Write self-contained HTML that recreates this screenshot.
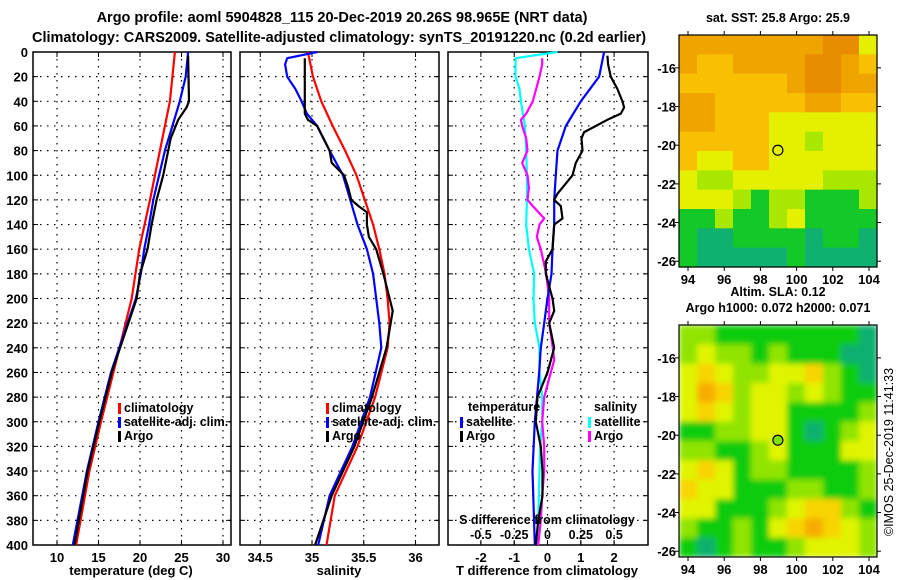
<!DOCTYPE html>
<html><head><meta charset="utf-8"><style>
body{margin:0;background:#fff;}
svg{display:block;font-family:"Liberation Sans",Arial,sans-serif;font-weight:bold;}
</style></head><body>
<svg id="c" width="900" height="580" viewBox="0 0 900 580">
<defs>
<filter id="blur" x="-5%" y="-5%" width="110%" height="110%"><feGaussianBlur stdDeviation="3" edgeMode="duplicate"/></filter>
<clipPath id="slaClip"><rect x="679" y="325" width="198" height="232"/></clipPath>
</defs>
</svg>
<script>
// ---------- data ----------
const depthTicks=[0,20,40,60,80,100,120,140,160,180,200,220,240,260,280,300,320,340,360,380,400];
const tempTicks=[10,15,20,25,30];
const salTicks=[34.5,35,35.5,36];
const dTTicks=[-2,-1,0,1,2];
const dSTicks=[-0.5,-0.25,0,0.25,0.5];
const dSTickLabels=["-0.5","-0.25","0","0.25","0.5"];
// temperature profiles [depth, value]
const tClimD=[0,40,80,120,160,200,260,300,340,400];
const tClimV=[24.2,23.6,22.4,21.2,19.9,19.0,16.8,15.3,13.9,12.3];
const tSatD=[0,20,40,60,80,100,120,140,160,180,200,260,300,340,400];
const tSatV=[25.8,25.5,24.8,23.9,23.0,22.3,21.6,21.1,20.5,20.1,19.5,16.5,15.0,13.6,11.9];
const tArgoD=[3,40,45,55,60,70,80,100,120,140,160,180,200,260,300,340,400];
const tArgoV=[25.8,25.9,25.6,24.6,24.3,23.7,23.4,22.8,22.0,21.4,20.9,20.0,19.6,16.6,15.1,13.7,12.1];
// salinity profiles
const sClimD=[0,20,40,60,80,100,120,140,160,180,200,220,240,280,320,360,400];
const sClimV=[34.96,35.01,35.09,35.20,35.32,35.43,35.51,35.59,35.65,35.70,35.73,35.75,35.73,35.61,35.44,35.22,35.14];
const sSatD=[0,5,10,20,30,40,50,60,80,100,120,140,160,180,200,220,240,280,320,360,400];
const sSatV=[35.05,34.76,34.74,34.76,34.84,34.90,34.95,35.05,35.17,35.30,35.37,35.44,35.53,35.59,35.62,35.65,35.67,35.56,35.39,35.17,35.06];
const sArgoD=[5,50,55,60,80,90,95,100,110,120,125,130,140,150,160,180,200,210,220,240,280,320,360,400];
const sArgoV=[34.93,34.93,34.96,35.05,35.17,35.19,35.25,35.31,35.35,35.38,35.45,35.53,35.53,35.55,35.62,35.69,35.75,35.78,35.76,35.72,35.58,35.41,35.19,35.03];
// differences
const dTSatD=[0,20,40,60,80,100,120,140,160,180,200,220,240,260,300,340,400];
const dTSatV=[1.7,1.55,1.0,0.55,0.3,0.25,0.2,0.2,0.15,0.12,0.0,-0.1,-0.2,-0.25,-0.38,-0.45,-0.38];
const dTArgoD=[3,10,20,30,40,45,50,55,60,65,70,80,90,100,105,115,120,125,135,140,160,170,180,200,210,220,240,255,260,280,300,320,340,360,380,400];
const dTArgoV=[1.8,1.82,1.9,2.1,2.25,2.3,2.2,1.8,1.45,1.1,1.02,1.05,0.85,0.75,0.6,0.3,0.2,0.4,0.45,0.2,0.15,-0.05,-0.05,0.15,0.2,0.05,0.2,0.05,0,-0.3,-0.35,-0.2,-0.15,-0.15,-0.28,-0.35];
const dSSatD=[0,5,10,20,30,40,60,80,100,120,140,160,180,200,220,240,260,280,300,320,340,400];
const dSSatV=[0.075,-0.24,-0.24,-0.24,-0.21,-0.2,-0.17,-0.16,-0.155,-0.155,-0.16,-0.14,-0.1,-0.105,-0.095,-0.06,-0.06,-0.04,-0.04,-0.055,-0.06,-0.075];
const dSArgoD=[5,10,20,40,50,55,60,70,80,90,100,110,120,125,135,140,150,160,180,200,220,240,250,260,270,280,300,320,340,360,380,400];
const dSArgoV=[-0.04,-0.04,-0.06,-0.11,-0.16,-0.2,-0.19,-0.16,-0.15,-0.19,-0.15,-0.14,-0.15,-0.11,-0.025,-0.06,-0.08,-0.05,-0.01,0.0125,0.0125,0.04,0.05,0.025,0.0,-0.025,-0.04,-0.025,-0.025,-0.04,-0.05,-0.07];
// maps: rows lat -15..-26, cols lon 94..104
const sstGrid=[
[5,5,5,5,5,5,5,5,6,6,3],[5,4,4,5,5,5,5,6,6,5,4],[4,4,4,4,4,4,5,6,6,5,5],[5,5,4,4,4,4,4,5,5,4,4],
[5,5,4,4,4,3,3,3,3,3,3],[4,4,4,4,4,3,3,2,3,3,3],[4,3,3,4,4,3,3,3,3,3,3],[3,2,2,3,3,3,3,3,2,2,2],
[3,3,3,2,1,2,2,1,1,1,2],[1,1,2,1,1,2,3,1,1,1,1],[1,0,0,1,1,1,1,0,1,1,0],[1,0,0,0,0,0,1,0,0,0,0]];
const slaGrid=[
[2,2,1,1,1,1,1,1,1,1,0],[2,3,2,2,1,2,1,1,1,0,0],[3,4,3,2,2,3,3,4,2,1,0],[3,5,4,2,3,3,2,3,2,1,1],
[3,4,3,2,3,3,1,1,1,1,2],[1,1,2,2,3,3,1,0,1,2,3],[2,2,1,1,2,3,1,1,1,3,3],[3,4,3,1,2,2,1,1,1,1,2],
[4,3,3,1,1,1,2,2,1,1,2],[3,3,1,1,1,2,3,4,4,2,1],[2,1,1,2,1,3,4,5,4,3,2],[1,0,1,2,1,1,2,3,3,3,2]];
const lonTicks=[94,96,98,100,102,104];
const latTicks=[-16,-18,-20,-22,-24,-26];
const argoLon=98.965, argoLat=-20.26;

// ---------- drawing ----------
const NS="http://www.w3.org/2000/svg";
const svg=document.getElementById('c');
function mk(tag,attrs,parent){const e=document.createElementNS(NS,tag);for(const k in attrs)e.setAttribute(k,attrs[k]);(parent||svg).appendChild(e);return e;}
function txt(s,x,y,anchor,size,parent){const t=mk('text',{x:x,y:y,'text-anchor':anchor||'middle','font-size':size||13},parent);t.textContent=s;return t;}
const Y0=52,Y1=545;
const yD=d=>Y0+d*(Y1-Y0)/400;
const xT=v=>57+(v-10)*8.3;
const xS=v=>312+(v-35)*103.5;
const xDT=v=>547.5+v*33.3;
const xDS=v=>547.5+v*133.2;

function panel(name,x0,x1,xticks,xfn,labels,yLabels){
  const g=mk('g',{});
  
  
  depthTicks.forEach(d=>{
    if(d>0&&d<400){const l=mk('line',{x1:x0,x2:x1,y1:yD(d),y2:yD(d),stroke:'#000','stroke-width':1.2,'stroke-dasharray':'1.5,5.5'},g);
      }
    mk('line',{x1:x0,x2:x0+5,y1:yD(d),y2:yD(d),stroke:'#000'},g);
    mk('line',{x1:x1-5,x2:x1,y1:yD(d),y2:yD(d),stroke:'#000'},g);
    if(yLabels){const t=txt(String(d),28,yD(d)+5,'end',13,g);}
  });
  xticks.forEach((v,i)=>{
    const x=xfn(v);
    const l=mk('line',{x1:x,x2:x,y1:Y0,y2:Y1,stroke:'#000','stroke-width':1.2,'stroke-dasharray':'1.5,5.5'},g);
    
    mk('line',{x1:x,x2:x,y1:Y1-5,y2:Y1,stroke:'#000'},g);
    mk('line',{x1:x,x2:x,y1:Y0,y2:Y0+5,stroke:'#000'},g);
    const t=txt(labels[i],x,Y1+17,'middle',13,g);
    
  });
  mk('rect',{x:x0,y:Y0,width:x1-x0,height:Y1-Y0,fill:'none',stroke:'#000','stroke-width':1.5},g);
  return g;
}
function line(g,D,V,xfn,color,name,w){
  const pts=D.map((d,i)=>xfn(V[i]).toFixed(1)+','+yD(d).toFixed(1)).join(' ');
  const p=mk('polyline',{points:pts,fill:'none',stroke:color,'stroke-width':w||2.2,'stroke-linejoin':'round'},g);
  
}
// titles
let t=txt('Argo profile: aoml 5904828_115 20-Dec-2019 20.26S 98.965E (NRT data)',342,22,'middle',14.5);

t=txt('Climatology: CARS2009. Satellite-adjusted climatology: synTS_20191220.nc (0.2d earlier)',339,42,'middle',14.5);


// panel 1
const p1=panel('temperature-panel',33,231,tempTicks,xT,tempTicks.map(String),true);
line(p1,tClimD,tClimV,xT,'#f00','temp-climatology-line');
line(p1,tSatD,tSatV,xT,'#00f','temp-satellite-line');
line(p1,tArgoD,tArgoV,xT,'#000','temp-argo-line');
t=txt('temperature (deg C)',131,575,'middle',13);
function legend(g,x,y,items){
  items.forEach((it,i)=>{
    const yy=y+i*14;
    const r=mk('rect',{x:x,y:yy-9,width:3,height:11,fill:it[1]},g);
    
    const tt=txt(it[0],x+6,yy,'start',12.5,g);
    
  });
}
legend(p1,118,412,[['climatology','#f00'],['satellite-adj. clim.','#00f'],['Argo','#000']]);
// panel 2
const p2=panel('salinity-panel',240,439,salTicks,xS,['34.5','35','35.5','36'],false);
line(p2,sClimD,sClimV,xS,'#f00','sal-climatology-line');
line(p2,sSatD,sSatV,xS,'#00f','sal-satellite-line');
line(p2,sArgoD,sArgoV,xS,'#000','sal-argo-line');
t=txt('salinity',339,575,'middle',13);
legend(p2,326,412,[['climatology','#f00'],['satellite-adj. clim.','#00f'],['Argo','#000']]);
// panel 3
const p3=panel('difference-panel',448,648,dTTicks,xDT,dTTicks.map(String),false);
line(p3,dSSatD,dSSatV,xDS,'#0ff','sal-diff-satellite-line');
line(p3,dSArgoD,dSArgoV,xDS,'#f0f','sal-diff-argo-line');
line(p3,dTSatD,dTSatV,xDT,'#00f','temp-diff-satellite-line');
line(p3,dTArgoD,dTArgoV,xDT,'#000','temp-diff-argo-line');
t=txt('T difference from climatology',547,575,'middle',13);
t=txt('S difference from climatology',547,524,'middle',12.5,p3);
dSTicks.forEach((v,i)=>{const tt=txt(dSTickLabels[i],xDS(v),539,'middle',12.5,p3);
  mk('line',{x1:xDS(v),x2:xDS(v),y1:Y1-4,y2:Y1,stroke:'#000'},p3);});
t=txt('temperature',468,411,'start',12.5,p3);
t=txt('salinity',594,411,'start',12.5,p3);
legend(p3,460,426,[['satellite','#00f'],['Argo','#000']]);
legend(p3,588,426,[['satellite','#0ff'],['Argo','#f0f']]);

// maps
const sstCols=['#10b070','#14c828','#a8e800','#e4f000','#f8c000','#f0a400','#e88c00'];
const slaCols=['#08b070','#10cc10','#90e400','#e0f400','#f8d400','#f8ac00'];
function map(name,top,bot,grid,cols,title1,title2,dotFill,smooth){
  const g=mk('g',{});
  
  const X0=679,X1=877;
  const lonX=lon=>688+(lon-94)*18.1;
  const latY=lat=>top+(lat+14.3)*(-(bot-top)/12);
  const cw=(X1-X0)/grid[0].length, ch=(bot-top)/grid.length;
  const cg=mk('g',smooth?{'clip-path':'url(#slaClip)'}:{},g);
  const cg2=mk('g',smooth?{filter:'url(#blur)'}:{},cg);
  grid.forEach((row,r)=>row.forEach((v,c)=>{
    const cell=mk('rect',{x:X0+c*cw,y:top+r*ch,width:cw+0.6,height:ch+0.6,fill:cols[v]},cg2);
    
  }));
  mk('rect',{x:X0,y:top,width:X1-X0,height:bot-top,fill:'none',stroke:'#000','stroke-width':1.2},g);
  lonTicks.forEach(l=>{const x=lonX(l);mk('line',{x1:x,x2:x,y1:bot,y2:bot+4,stroke:'#000'},g);mk('line',{x1:x,x2:x,y1:top-4,y2:top,stroke:'#000'},g);
    const tt=txt(String(l),x,bot+17,'middle',13,g);});
  latTicks.forEach(l=>{const y=latY(l);mk('line',{x1:X0-4,x2:X0,y1:y,y2:y,stroke:'#000'},g);mk('line',{x1:X1,x2:X1+4,y1:y,y2:y,stroke:'#000'},g);
    const tt=txt(String(l),676,y+5,'end',13,g);});
  const cc=mk('circle',{cx:lonX(argoLon),cy:latY(argoLat),r:5,fill:dotFill,stroke:'#000','stroke-width':1.2},g);
  
  let a=txt(title1,778,top-13-(title2?16:0),'middle',12.5,g);
  if(title2){a=txt(title2,778,top-13,'middle',12.5,g);}
}
map('sst-map',35,267,sstGrid,sstCols,'sat. SST: 25.8 Argo: 25.9',null,'none',false);
map('sla-map',325,557,slaGrid,slaCols,'Altim. SLA: 0.12','Argo h1000: 0.072 h2000: 0.071','#80e000',true);
t=mk('text',{x:0,y:0,'text-anchor':'middle','font-size':12.5,'font-weight':'normal',transform:'translate(893,452) rotate(-90)'});
t.textContent='©IMOS 25-Dec-2019 11:41:33';

</script>
</body></html>
